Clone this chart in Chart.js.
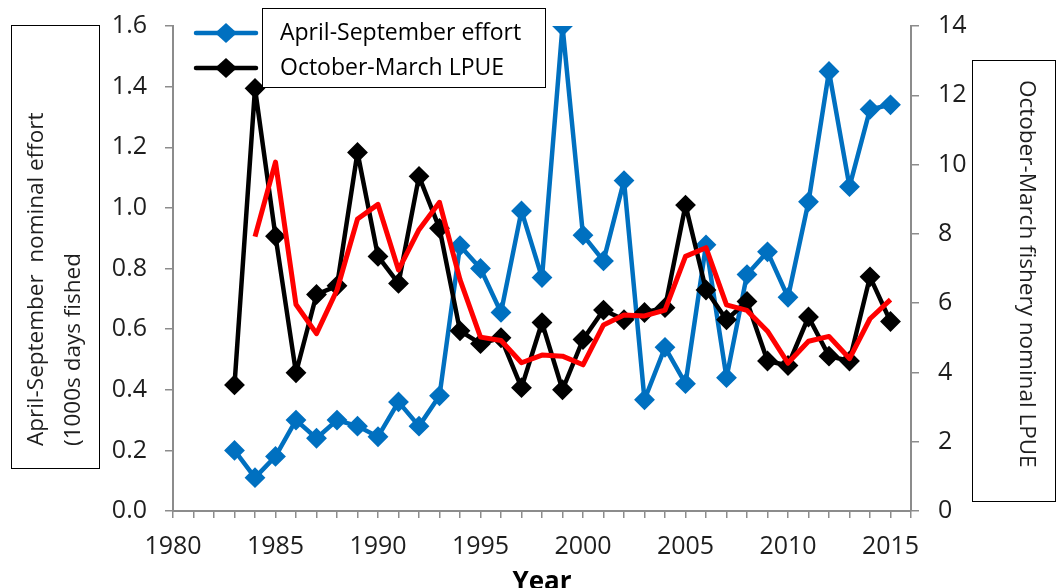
<!DOCTYPE html>
<html><head><meta charset="utf-8">
<script src="https://cdn.jsdelivr.net/npm/chart.js@4"></script>
<style>html,body{margin:0;padding:0;background:#fff}#wrap{width:1058px;height:588px;position:relative}</style>
</head><body><div id="wrap"><canvas id="c" width="1058" height="588"></canvas></div>
<script>
const years = [1983,1984,1985,1986,1987,1988,1989,1990,1991,1992,1993,1994,1995,1996,1997,1998,1999,2000,2001,2002,2003,2004,2005,2006,2007,2008,2009,2010,2011,2012,2013,2014,2015];
const effort = [0.20,0.11,0.18,0.30,0.24,0.30,0.28,0.245,0.36,0.28,0.38,0.875,0.80,0.655,0.99,0.77,1.60,0.91,0.825,1.09,0.367,0.54,0.42,0.878,0.44,0.78,0.855,0.705,1.02,1.45,1.07,1.325,1.34];
const lpue = [3.64,12.2,7.93,3.99,6.25,6.5,10.35,7.35,6.57,9.66,8.16,5.2,4.83,5.0,3.56,5.44,3.5,4.95,5.8,5.52,5.73,5.87,8.83,6.38,5.52,6.05,4.33,4.2,5.6,4.47,4.33,6.76,5.47];
const avgYears = [1984,1985,1986,1987,1988,1989,1990,1991,1992,1993,1994,1995,1996,1997,1998,1999,2000,2001,2002,2003,2004,2005,2006,2007,2008,2009,2010,2011,2012,2013,2014,2015];
const lpueAvg = [7.92,10.07,5.96,5.12,6.38,8.43,8.85,6.96,8.12,8.91,6.68,5.02,4.92,4.28,4.5,4.47,4.22,5.37,5.66,5.63,5.8,7.35,7.6,5.95,5.79,5.19,4.27,4.9,5.04,4.4,5.55,6.1];
const xLabelYears = [1980,1985,1990,1995,2000,2005,2010,2015];
const effortTickLabels = ['0.0','0.2','0.4','0.6','0.8','1.0','1.2','1.4','1.6'];
const lpueTickLabels = ['0','2','4','6','8','10','12','14'];

const BLUE = '#0070C0', BLACK = '#000000', RED = '#FF0000';
const AXIS = '#8c8c8c', TXT = '#1e1e1e';
const tickFont = {family: "'Open Sans'", size: 25};

const overlay = {
  id: 'overlay',
  afterDraw(chart) {
    const ctx = chart.ctx;
    ctx.save();
    // left axis title box
    ctx.strokeStyle = '#000'; ctx.lineWidth = 1;
    ctx.strokeRect(11.5, 25.5, 88, 443);
    ctx.fillStyle = TXT;
    ctx.font = "22.5px 'Open Sans'";
    ctx.textAlign = 'left'; ctx.textBaseline = 'alphabetic';
    [['April-September  nominal effort', 43], ['(1000s days fished', 80]].forEach(([t, x]) => {
      ctx.save(); ctx.translate(x, 446); ctx.rotate(-Math.PI / 2); ctx.fillText(t, 0, 0); ctx.restore();
    });
    // right axis title box
    ctx.strokeRect(972.5, 60.5, 83, 441);
    ctx.save(); ctx.translate(1020, 80); ctx.rotate(Math.PI / 2);
    ctx.fillText('October-March fishery nominal LPUE', 0, 0); ctx.restore();
    // x title
    ctx.font = "bold 26px 'Open Sans'";
    ctx.textAlign = 'center';
    ctx.fillStyle = '#000';
    ctx.fillText('Year', (chart.chartArea.left + chart.chartArea.right) / 2, 590);
    // legend
    ctx.fillStyle = '#fff';
    ctx.fillRect(262.5, 8.5, 283, 79);
    ctx.strokeStyle = '#000'; ctx.lineWidth = 1;
    ctx.strokeRect(262.5, 8.5, 283, 79);
    const items = chart.data.datasets.slice(0, 2);
    const rows = [33, 68];
    items.forEach((ds, i) => {
      const y = rows[i];
      ctx.strokeStyle = ds.borderColor; ctx.lineWidth = 4.5; ctx.lineCap = 'round';
      ctx.beginPath(); ctx.moveTo(196, y); ctx.lineTo(256, y); ctx.stroke();
      ctx.fillStyle = ds.borderColor;
      ctx.beginPath(); ctx.moveTo(215, y); ctx.lineTo(226, y - 10); ctx.lineTo(237, y); ctx.lineTo(226, y + 10); ctx.closePath(); ctx.fill();
      ctx.fillStyle = '#000';
      ctx.font = "23px 'Open Sans'";
      ctx.textAlign = 'left'; ctx.textBaseline = 'middle';
      ctx.fillText(ds.label, 280, y);
    });
    ctx.restore();
  }
};

function pts(xs, ys) { return xs.map((x, i) => ({x: x, y: ys[i]})); }
function noPad(s) { s.paddingTop = 0; s.paddingBottom = 0; s.paddingLeft = 0; s.paddingRight = 0; }

new Chart(document.getElementById('c'), {
  type: 'line',
  data: {
    datasets: [
      {label: 'April-September effort', data: pts(years, effort), yAxisID: 'y', borderColor: BLUE, backgroundColor: BLUE,
       pointBackgroundColor: BLUE, pointBorderColor: BLUE, borderWidth: 4.5, pointStyle: 'rectRot', pointRadius: 9, pointBorderWidth: 2,
       borderJoinStyle: 'round', tension: 0, order: 2},
      {label: 'October-March LPUE', data: pts(years, lpue), yAxisID: 'y1', borderColor: BLACK, backgroundColor: BLACK,
       pointBackgroundColor: BLACK, pointBorderColor: BLACK, borderWidth: 4.5, pointStyle: 'rectRot', pointRadius: 9, pointBorderWidth: 2,
       borderJoinStyle: 'round', tension: 0, order: 1},
      {label: '2 per. Mov. Avg. (October-March LPUE)', data: pts(avgYears, lpueAvg), yAxisID: 'y1', borderColor: RED,
       borderWidth: 5, pointRadius: 0, borderJoinStyle: 'round', tension: 0, order: 0}
    ]
  },
  options: {
    responsive: false, animation: false,
    layout: {padding: {top: 26, left: 0, right: 0, bottom: 0}},
    plugins: {legend: {display: false}, tooltip: {enabled: false}},
    scales: {
      x: {
        type: 'linear', min: 1980, max: 2016,
        afterFit: s => { s.height = 77; noPad(s); },
        ticks: {stepSize: 1, autoSkip: false, maxRotation: 0, minRotation: 0, padding: 14, color: TXT, font: tickFont,
          callback: v => xLabelYears.includes(v) ? String(v) : ''},
        grid: {drawOnChartArea: false, drawTicks: true, tickLength: 7, color: AXIS, lineWidth: 1.5},
        border: {color: AXIS, width: 2}
      },
      y: {
        position: 'left', min: 0, max: 1.6,
        afterFit: s => { s.width = 173; noPad(s); },
        ticks: {stepSize: 0.2, padding: 18, color: TXT, font: tickFont,
          callback: (v) => effortTickLabels[Math.round(v / 0.2)]},
        grid: {drawOnChartArea: false, drawTicks: true, tickLength: 8, color: AXIS, lineWidth: 1.5},
        border: {color: AXIS, width: 2}
      },
      y1: {
        position: 'right', min: 0, max: 14,
        afterFit: s => { s.width = 147; noPad(s); },
        ticks: {stepSize: 2, padding: 19, color: TXT, font: tickFont,
          callback: (v) => lpueTickLabels[Math.round(v / 2)]},
        grid: {drawOnChartArea: false, drawTicks: true, tickLength: 8, color: AXIS, lineWidth: 1.5},
        border: {color: AXIS, width: 2}
      }
    }
  },
  plugins: [overlay]
});
</script></body></html>
